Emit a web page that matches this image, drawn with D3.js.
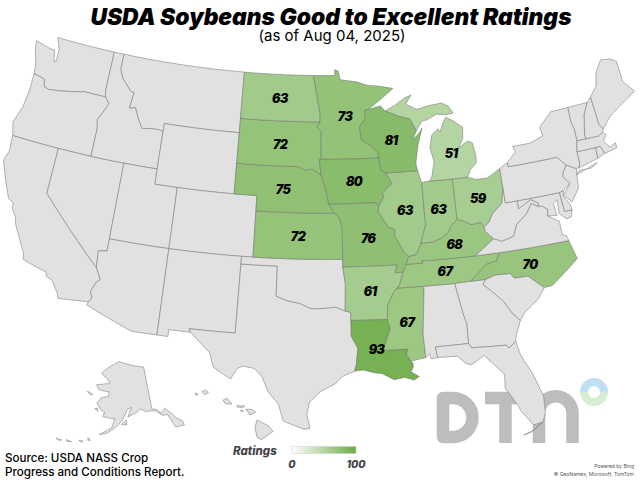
<!DOCTYPE html>
<html>
<head>
<meta charset="utf-8">
<script src="https://cdnjs.cloudflare.com/ajax/libs/d3/7.8.5/d3.min.js"></script>
<style>
    body { margin: 0; background: #fff; }
    svg { display: block; font-family: Inter, sans-serif; }
    .state { stroke: #6f6f6f; stroke-width: 0.5; stroke-linejoin: round; }
    .rating { font-size: 12.5px; font-weight: 900; font-style: italic; letter-spacing: -0.6px; text-anchor: middle; fill: #000; }
</style>
</head>
<body>
<svg id="map" width="640" height="480"></svg>
<script>
var titleText = "USDA Soybeans Good to Excellent Ratings";
var subtitleText = "(as of Aug 04, 2025)";
var sourceLines = ["Source: USDA NASS Crop", "Progress and Conditions Report."];
var creditLines = ["Powered by Bing", "\u00a9 GeoNames, Microsoft, TomTom"];

// ratings by state
var ratedStates = ["ND", "SD", "NE", "KS", "MN", "IA", "MO", "AR", "LA", "MS", "WI", "IL", "IN", "MI", "OH", "KY", "TN", "NC"];
var ratings = [63, 72, 75, 72, 73, 80, 76, 61, 93, 67, 81, 63, 63, 51, 59, 68, 67, 70];
var legendDomain = [0, 100];

// state outlines, [lon, lat]
var lower48 = {
    WA: [[[-124.7,48.4],[-123.2,48.15],[-122.75,48.15],[-122.5,47.4],[-122.3,47.5],[-122.35,48.3],[-122.8,49],[-117.03,49],[-117.04,46.42],[-116.92,45.99],[-118.98,46],[-119.3,45.93],[-121.2,45.65],[-122.3,45.55],[-122.75,45.65],[-122.9,46.1],[-123.4,46.2],[-124,46.27],[-124.1,46.9],[-124.6,47.9]]],
    OR: [[[-124,46.27],[-123.4,46.2],[-122.9,46.1],[-122.75,45.65],[-122.3,45.55],[-121.2,45.65],[-119.3,45.93],[-118.98,46],[-116.92,45.99],[-116.46,45.6],[-116.85,44.95],[-117.2,44.45],[-117.03,43.85],[-117.03,42],[-120,42],[-124.21,42],[-124.55,42.84],[-124.1,44],[-123.95,45.2]]],
    CA: [[[-124.21,42],[-120,42],[-120,39],[-114.63,35],[-114.14,34.3],[-114.43,34.05],[-114.72,33.4],[-114.5,33],[-114.72,32.72],[-117.12,32.53],[-117.25,32.85],[-117.9,33.6],[-118.4,33.75],[-118.5,34.03],[-119.2,34.15],[-120.5,34.45],[-120.65,34.9],[-121.9,36.6],[-122,36.95],[-122.5,37.5],[-122.5,37.8],[-123,38],[-123.8,39.3],[-124.35,40.3],[-124.1,41],[-124.2,41.75]]],
    NV: [[[-120,42],[-114.04,42],[-114.04,37],[-114.04,36.2],[-114.75,36.1],[-114.63,35],[-120,39]]],
    ID: [[[-117.03,49],[-116.05,49],[-116.05,48],[-115.7,47.45],[-114.7,46.7],[-114.35,46.65],[-114.5,45.6],[-113.95,45.7],[-113.45,44.95],[-113,44.45],[-112,44.55],[-111.5,44.55],[-111.05,44.48],[-111.05,42],[-114.04,42],[-117.03,42],[-117.03,43.85],[-117.2,44.45],[-116.85,44.95],[-116.46,45.6],[-116.92,45.99],[-117.04,46.42]]],
    MT: [[[-116.05,49],[-104.05,49],[-104.05,45],[-111.05,45],[-111.05,44.48],[-111.5,44.55],[-112,44.55],[-113,44.45],[-113.45,44.95],[-113.95,45.7],[-114.5,45.6],[-114.35,46.65],[-114.7,46.7],[-115.7,47.45],[-116.05,48]]],
    WY: [[[-111.05,45],[-104.05,45],[-104.05,41],[-111.05,41]]],
    UT: [[[-114.04,42],[-111.05,42],[-111.05,41],[-109.05,41],[-109.05,37],[-114.04,37]]],
    CO: [[[-109.05,41],[-102.05,41],[-102.05,37],[-109.05,37]]],
    AZ: [[[-114.04,37],[-109.05,37],[-109.05,31.33],[-111.07,31.33],[-114.81,32.5],[-114.72,32.72],[-114.5,33],[-114.72,33.4],[-114.43,34.05],[-114.14,34.3],[-114.63,35],[-114.75,36.1],[-114.04,36.2]]],
    NM: [[[-109.05,37],[-103,37],[-103.05,32],[-106.62,32],[-106.53,31.78],[-108.2,31.78],[-108.2,31.33],[-109.05,31.33]]],
    TX: [[[-103,36.5],[-100,36.5],[-100,34.56],[-99.2,34.3],[-98.1,34.13],[-97.2,33.8],[-96.5,33.8],[-95.2,33.9],[-94.48,33.64],[-94.04,33.55],[-94.04,33.02],[-94.04,31.99],[-93.55,31.2],[-93.7,30.1],[-93.85,29.7],[-94.7,29.4],[-95.3,28.9],[-96.4,28.4],[-97.2,27.7],[-97.4,26.9],[-97.15,25.96],[-97.6,25.9],[-99.1,26.4],[-99.5,27.5],[-100.3,28.3],[-100.8,29.25],[-101.4,29.77],[-102.3,29.88],[-102.7,29.7],[-103.15,28.98],[-104.5,29.65],[-104.9,30.6],[-106.53,31.78],[-106.62,32],[-103.05,32]]],
    OK: [[[-103,37],[-102.05,37],[-94.62,37],[-94.62,36.5],[-94.43,35.4],[-94.48,33.64],[-95.2,33.9],[-96.5,33.8],[-97.2,33.8],[-98.1,34.13],[-99.2,34.3],[-100,34.56],[-100,36.5],[-103,36.5]]],
    KS: [[[-102.05,40],[-95.3,40],[-94.9,39.75],[-94.62,39.1],[-94.62,37],[-102.05,37]]],
    NE: [[[-104.05,43],[-98.5,43],[-97.9,42.8],[-97.2,42.85],[-96.45,42.49],[-96.1,41.7],[-95.9,41.2],[-95.77,40.58],[-95.3,40],[-102.05,40],[-102.05,41],[-104.05,41]]],
    SD: [[[-104.05,45.94],[-96.56,45.94],[-96.85,45.6],[-96.45,45.3],[-96.45,43.5],[-96.6,43.5],[-96.45,42.49],[-97.2,42.85],[-97.9,42.8],[-98.5,43],[-104.05,43]]],
    ND: [[[-104.05,49],[-97.23,49],[-96.85,47.6],[-96.55,46.4],[-96.56,45.94],[-104.05,45.94]]],
    MN: [[[-97.23,49],[-95.15,49],[-95.15,49.38],[-94.8,49.3],[-94.6,48.72],[-93,48.55],[-92,48.3],[-90.8,48.2],[-89.5,48],[-90.8,47.3],[-92,46.7],[-92.3,46.66],[-92.3,46.1],[-92.85,45.6],[-92.75,44.75],[-91.9,44.3],[-91.25,43.85],[-91.22,43.5],[-96.45,43.5],[-96.45,45.3],[-96.85,45.6],[-96.56,45.94],[-96.55,46.4],[-96.85,47.6]]],
    IA: [[[-96.45,43.5],[-91.22,43.5],[-91.1,42.7],[-90.65,42.5],[-90.15,41.8],[-91.05,41.2],[-90.95,40.95],[-91.42,40.38],[-91.73,40.61],[-95.77,40.58],[-95.9,41.2],[-96.1,41.7],[-96.45,42.49],[-96.6,43.5]]],
    MO: [[[-95.77,40.58],[-91.73,40.61],[-91.42,40.38],[-91.5,40],[-90.7,39],[-90.15,38.8],[-90.2,38.4],[-89.5,37.3],[-89.15,37],[-89.4,36.5],[-89.7,36],[-90.37,36],[-90.15,36.5],[-94.62,36.5],[-94.62,37],[-94.62,39.1],[-94.9,39.75],[-95.3,40]]],
    AR: [[[-94.62,36.5],[-90.15,36.5],[-90.37,36],[-89.7,36],[-90.07,35.15],[-90.6,34.7],[-91.1,33.9],[-91.17,33],[-94.04,33.02],[-94.04,33.55],[-94.48,33.64],[-94.43,35.4]]],
    LA: [[[-94.04,33.02],[-91.17,33],[-91,32.4],[-91.6,31],[-89.73,31],[-89.85,30.65],[-89.55,30.2],[-89.4,30.05],[-89.4,29.8],[-89.6,29.5],[-89,29.15],[-89.4,28.95],[-90.1,29.15],[-90.9,29.05],[-91.8,29.5],[-92.3,29.55],[-93.2,29.77],[-93.85,29.7],[-93.7,30.1],[-93.55,31.2],[-94.04,31.99]]],
    MS: [[[-90.3,35],[-88.2,35],[-88.1,34.9],[-88.47,31.9],[-88.4,30.35],[-89.55,30.2],[-89.85,30.65],[-89.73,31],[-91.6,31],[-91,32.4],[-91.17,33],[-91.1,33.9],[-90.6,34.7],[-90.07,35.15]]],
    AL: [[[-88.2,35],[-85.6,34.98],[-85.18,32.87],[-85,32.3],[-85.05,31],[-87.6,31],[-87.5,30.3],[-88,30.25],[-88.1,30.6],[-88.4,30.35],[-88.47,31.9],[-88.1,34.9]]],
    TN: [[[-89.4,36.5],[-88.05,36.5],[-88.07,36.68],[-87.85,36.64],[-83.68,36.6],[-81.68,36.59],[-82,36.1],[-82.9,35.95],[-84.3,35],[-85.6,34.98],[-88.2,35],[-90.3,35],[-90.07,35.15],[-89.7,36]]],
    KY: [[[-89.4,36.5],[-89.15,37],[-88.5,37.1],[-88.05,37.8],[-87.1,37.8],[-86.3,38],[-85.7,38.3],[-85.4,38.7],[-84.8,39.1],[-84.3,38.95],[-83.7,38.65],[-82.85,38.7],[-82.6,38.4],[-82.6,38.1],[-81.97,37.54],[-83.68,36.6],[-87.85,36.64],[-88.07,36.68],[-88.05,36.5]]],
    IL: [[[-90.65,42.5],[-87.8,42.5],[-87.53,41.7],[-87.53,39.35],[-87.5,39],[-88.05,37.8],[-88.5,37.1],[-89.15,37],[-89.5,37.3],[-90.2,38.4],[-90.15,38.8],[-90.7,39],[-91.5,40],[-91.42,40.38],[-90.95,40.95],[-91.05,41.2],[-90.15,41.8]]],
    IN: [[[-87.53,41.7],[-87.2,41.75],[-86.8,41.76],[-84.8,41.73],[-84.8,39.1],[-85.4,38.7],[-85.7,38.3],[-86.3,38],[-87.1,37.8],[-88.05,37.8],[-87.5,39],[-87.53,39.35]]],
    OH: [[[-84.8,41.73],[-83.45,41.73],[-82.7,41.5],[-81.7,41.5],[-80.52,41.98],[-80.52,40.64],[-80.85,39.7],[-81.7,39.2],[-82.2,38.6],[-82.6,38.4],[-82.85,38.7],[-83.7,38.65],[-84.3,38.95],[-84.8,39.1]]],
    MI: [[[-86.8,41.76],[-84.8,41.73],[-83.45,41.73],[-83.1,42.2],[-82.5,42.6],[-82.45,43],[-82.6,43.9],[-83,44.07],[-83.9,43.7],[-83.4,44.3],[-83.3,45],[-84.1,45.5],[-84.75,45.78],[-85.1,45.4],[-85.4,44.9],[-85.6,45.1],[-86.25,44.7],[-86.5,43.9],[-86.25,43],[-86.6,42]],
         [[-90.4,46.55],[-89.5,46.85],[-88.5,47.3],[-87.8,47.47],[-88.4,46.9],[-87.4,46.5],[-86.2,46.67],[-85,46.75],[-84.4,46.5],[-84,46],[-84.75,45.95],[-85.6,46.05],[-86.5,45.75],[-87,45.7],[-87.6,45.1],[-88.1,45.9],[-89.1,46.13]]],
    WI: [[[-92.3,46.66],[-92,46.7],[-90.8,46.9],[-90.4,46.55],[-89.1,46.13],[-88.1,45.9],[-87.6,45.1],[-88,44.55],[-87.4,44.9],[-87.05,45.25],[-87.55,44.2],[-87.9,43],[-87.8,42.5],[-90.65,42.5],[-91.1,42.7],[-91.22,43.5],[-91.25,43.85],[-91.9,44.3],[-92.75,44.75],[-92.85,45.6],[-92.3,46.1]]],
    GA: [[[-85.6,34.98],[-84.3,35],[-83.1,35],[-83.35,34.7],[-82.75,34.2],[-81.9,33.4],[-81.4,32.6],[-80.85,32.03],[-81.4,31],[-81.45,30.72],[-82.05,30.36],[-82.2,30.57],[-84.86,30.7],[-85.05,31],[-85,32.3],[-85.18,32.87]]],
    FL: [[[-87.6,31],[-85.05,31],[-84.86,30.7],[-82.2,30.57],[-82.05,30.36],[-81.45,30.72],[-81.25,29.8],[-80.55,28.4],[-80.05,26.9],[-80.13,25.8],[-80.4,25.2],[-81.1,25.12],[-81.8,26.1],[-82.2,26.9],[-82.75,27.8],[-82.65,28.7],[-83.4,29.5],[-84,30.1],[-85,29.6],[-85.4,29.7],[-86,30.25],[-87.5,30.3]],
         [[-81.9,24.55],[-81.3,24.68],[-80.45,25.2],[-81.2,24.75]]],
    SC: [[[-83.35,34.7],[-83.1,35],[-82.3,35.2],[-81.05,35.15],[-80.8,34.82],[-79.68,34.8],[-78.55,33.87],[-79.2,33.2],[-80.4,32.5],[-80.85,32.03],[-81.4,32.6],[-81.9,33.4],[-82.75,34.2]]],
    NC: [[[-84.3,35],[-82.9,35.95],[-82,36.1],[-81.68,36.59],[-75.87,36.55],[-75.5,35.3],[-76.5,34.7],[-77.9,33.9],[-78.55,33.87],[-79.68,34.8],[-80.8,34.82],[-81.05,35.15],[-82.3,35.2],[-83.1,35]]],
    VA: [[[-83.68,36.6],[-81.97,37.54],[-81.3,37.3],[-80.3,37.5],[-79.9,38.2],[-78.9,38.8],[-78.35,39.4],[-77.83,39.13],[-77.5,39.1],[-77.05,38.8],[-77.2,38.4],[-76.3,37.9],[-76.3,37],[-75.97,36.9],[-75.87,36.55],[-81.68,36.59]]],
    WV: [[[-81.97,37.54],[-82.6,38.1],[-82.6,38.4],[-82.2,38.6],[-81.7,39.2],[-80.85,39.7],[-80.52,40.64],[-80.52,39.72],[-79.48,39.72],[-79.48,39.2],[-78.35,39.65],[-77.72,39.32],[-77.83,39.13],[-78.35,39.4],[-78.9,38.8],[-79.9,38.2],[-80.3,37.5],[-81.3,37.3]]],
    MD: [[[-79.48,39.72],[-75.79,39.72],[-75.7,38.46],[-75.05,38.45],[-75.25,38.03],[-75.65,37.95],[-76.2,38.4],[-76.1,39.3],[-76.5,39.1],[-76.4,38.3],[-77.2,38.4],[-77.05,38.8],[-77.5,39.1],[-77.83,39.13],[-77.72,39.32],[-78.35,39.65],[-79.48,39.2]]],
    DE: [[[-75.79,39.72],[-75.4,39.8],[-75.55,39.45],[-75.08,38.8],[-75.05,38.45],[-75.7,38.46]]],
    PA: [[[-80.52,41.98],[-79.76,42.27],[-79.76,42],[-75.35,42],[-74.7,41.36],[-75.1,40.95],[-75.2,40.65],[-74.72,40.15],[-75.4,39.8],[-75.79,39.72],[-79.48,39.72],[-80.52,39.72],[-80.52,40.64]]],
    NJ: [[[-74.7,41.36],[-73.9,41],[-74,40.45],[-74.1,39.75],[-74.9,38.95],[-75.5,39.5],[-74.72,40.15],[-75.2,40.65],[-75.1,40.95]]],
    NY: [[[-79.76,42],[-79.76,42.27],[-78.9,42.85],[-79.05,43.26],[-77.5,43.25],[-76.2,43.55],[-76.3,44.15],[-75,44.98],[-73.35,45],[-73.4,44],[-73.25,43.55],[-73.27,42.75],[-73.5,42.05],[-73.5,41.3],[-73.65,41],[-73.9,41],[-74.7,41.36],[-75.35,42]],
         [[-74,40.6],[-72,41.05],[-72.6,40.8],[-73.7,40.85]]],
    CT: [[[-73.5,42.05],[-71.8,42.02],[-71.85,41.32],[-73.65,41],[-73.5,41.3]]],
    RI: [[[-71.8,42.02],[-71.38,42.02],[-71.15,41.5],[-71.85,41.32]]],
    MA: [[[-73.5,42.05],[-73.27,42.75],[-72.46,42.73],[-71.3,42.7],[-70.85,42.87],[-70.6,42.65],[-71,42.3],[-70.55,41.8],[-70,42],[-70,41.65],[-71.15,41.5],[-71.38,42.02],[-71.8,42.02]]],
    VT: [[[-73.35,45],[-71.5,45.01],[-72.05,44.3],[-72.45,43.1],[-72.46,42.73],[-73.27,42.75],[-73.25,43.55],[-73.4,44]]],
    NH: [[[-71.5,45.01],[-71.08,45.3],[-70.98,43.4],[-70.7,43.07],[-70.85,42.87],[-71.3,42.7],[-72.46,42.73],[-72.45,43.1],[-72.05,44.3]]],
    ME: [[[-71.08,45.3],[-70.3,45.9],[-70,46.7],[-69.23,47.46],[-68.3,47.35],[-67.8,47.07],[-67.8,45.7],[-67,44.85],[-68.5,44.3],[-69.8,43.75],[-70.7,43.07],[-70.98,43.4]]]
};

var alaskaOutline = [
    [[-141,69.65],[-148,70.4],[-156.6,71.35],[-163,69.8],[-166.5,68.35],[-162,67],[-161,66.3],[-163.7,66.1],[-168,65.6],[-166,64.6],[-161,64.5],[-161,63.5],[-164.5,63],[-166,61.7],[-163.5,60.3],[-162,60],[-162.5,59],[-158,58.7],[-157.3,58.8],[-158.5,56.7],[-163,55],[-160,55.5],[-156,57.3],[-154,58.6],[-152,60.8],[-150,61.2],[-151.8,59.2],[-148,60],[-146,60.7],[-144,60],[-141,59.9],[-139.5,59.7],[-137,58.4],[-135,58.3],[-133.4,55.2],[-130,55],[-130.1,56],[-132,57],[-133.5,58.5],[-135.5,59.8],[-137.5,58.9],[-139,60],[-141,60.3]],
    [[-154.5,57.5],[-152.3,57.5],[-152.6,58.5],[-153.9,57.9]],
    [[-171.8,63.7],[-170,63.2],[-168.8,63.3],[-170.5,63.7]],
    [[-166.5,60.4],[-165,60],[-165.3,60.6]],
    [[-167,53.9],[-166,53.5],[-166.8,53.3]],
    [[-170,52.9],[-168.5,53],[-169,52.6]],
    [[-174.5,52.3],[-172.5,52.2],[-174,52]],
    [[-178,51.9],[-176,51.9],[-177,51.6]]
];

var hawaiiOutline = [
    [[-155.9,20.25],[-155.1,19.85],[-154.8,19.5],[-155.6,18.95],[-155.9,19.1],[-156.05,19.75]],
    [[-156.7,20.95],[-156.25,20.95],[-156,20.75],[-156.4,20.58],[-156.55,20.8]],
    [[-157.3,21.2],[-156.75,21.17],[-156.9,21.05],[-157.3,21.1]],
    [[-157.05,20.9],[-156.85,20.85],[-156.95,20.75]],
    [[-158.27,21.55],[-158,21.7],[-157.65,21.3],[-158.1,21.3]],
    [[-159.75,22.1],[-159.5,22.22],[-159.3,22.05],[-159.55,21.9]],
    [[-160.25,21.95],[-160.1,22],[-160.05,21.85]]
];

var svg = d3.select("#map");

var colorScale = d3.scaleLinear().domain(legendDomain).range(["#ffffff", "#6cab46"]);
var ratingByState = new Map(ratedStates.map(function(s, i) { return [s, ratings[i]]; }));

var mainProjection = d3.geoConicEqualArea().parallels([29.5, 45.5]).rotate([96, 0]).center([0, 38])
    .scale(875).translate([326, 244]);
var alaskaProjection = d3.geoConicEqualArea().parallels([55, 65]).rotate([154, 0]).center([-2, 58.5])
    .scale(262).translate([118, 420]);
var hawaiiProjection = d3.geoConicEqualArea().parallels([8, 18]).rotate([157, 0]).center([-3, 19.9])
    .scale(875).translate([198, 425]);

// add points along long edges so borders follow the parallels, and fix the ring direction
function toFeature(id, polygons) {
    var rings = polygons.map(function(poly) {
        var ring = [];
        poly.concat([poly[0]]).forEach(function(p, i, all) {
            if (i > 0) {
                var q = all[i - 1];
                var steps = Math.ceil(Math.max(Math.abs(p[0] - q[0]), Math.abs(p[1] - q[1])));
                d3.range(1, steps).forEach(function(k) {
                    ring.push([q[0] + (p[0] - q[0]) * k / steps, q[1] + (p[1] - q[1]) * k / steps]);
                });
            }
            ring.push(p);
        });
        if (d3.geoArea({ type: "Polygon", coordinates: [ring] }) > 2 * Math.PI) ring.reverse();
        return [ring];
    });
    return { type: "Feature", id: id, geometry: { type: "MultiPolygon", coordinates: rings } };
}

function largestPolygon(feature) {
    var best = d3.greatest(feature.geometry.coordinates, function(c) {
        return d3.geoArea({ type: "Polygon", coordinates: c });
    });
    return { type: "Polygon", coordinates: best };
}

// DTN mark, sits under the map
function drawLogo() {
    var logo = svg.append("g").attr("class", "logo");
    var strokes = [
        "M443,398H453A19.5,19.5 0 0 1 453,437H443Z",
        "M485,398H527M505.5,398V443",
        "M539,443V413A16.75,16.75 0 0 1 572.5,413V443"
    ];
    logo.selectAll("path")
        .data(strokes)
        .enter()
        .append("path")
        .attr("d", function(d) { return d; })
        .attr("fill", "none")
        .attr("stroke", "#bdbdbd")
        .attr("stroke-width", 12.5)
        .attr("stroke-linejoin", "round");

    var ring = d3.arc().innerRadius(6).outerRadius(14);
    var ringGroup = logo.append("g").attr("transform", "translate(594,392)");
    ringGroup.append("path")
        .attr("d", ring({ startAngle: -Math.PI / 2, endAngle: Math.PI / 2 }))
        .attr("fill", "#bfe0f2");
    ringGroup.append("path")
        .attr("d", ring({ startAngle: Math.PI / 2, endAngle: 3 * Math.PI / 2 }))
        .attr("fill", "#d8eed3");
}

function drawMap() {
    var groups = [
        { projection: mainProjection, features: Object.keys(lower48).map(function(k) { return toFeature(k, lower48[k]); }) },
        { projection: alaskaProjection, features: [toFeature("AK", alaskaOutline)] },
        { projection: hawaiiProjection, features: [toFeature("HI", hawaiiOutline)] }
    ];

    groups.forEach(function(group) {
        var path = d3.geoPath(group.projection);
        svg.append("g")
            .selectAll("path")
            .data(group.features)
            .enter()
            .append("path")
            .attr("class", "state")
            .attr("d", path)
            .attr("fill", function(d) {
                return ratingByState.has(d.id) ? colorScale(ratingByState.get(d.id)) : "#e1e1e1";
            });
    });

    var path = d3.geoPath(mainProjection);
    svg.append("g")
        .selectAll("text")
        .data(groups[0].features.filter(function(d) { return ratingByState.has(d.id); }))
        .enter()
        .append("text")
        .attr("class", "rating")
        .attr("transform", function(d) {
            var c = path.centroid(largestPolygon(d));
            // LA and NC sit a little left of their centroid in the reference
            var nudge = d.id === "LA" || d.id === "NC" ? -3 : 0;
            return "translate(" + (c[0] + nudge) + "," + (c[1] + 5 + (d.id === "LA" ? -2 : 0)) + ")";
        })
        .text(function(d) { return ratingByState.get(d.id); });
}

function drawTexts() {
    svg.append("text")
        .attr("x", 331).attr("y", 25)
        .attr("text-anchor", "middle")
        .attr("font-size", 22.8).attr("font-weight", 900).attr("font-style", "italic")
        .text(titleText);
    svg.append("text")
        .attr("x", 332).attr("y", 41)
        .attr("text-anchor", "middle")
        .attr("font-size", 15)
        .text(subtitleText);

    svg.append("g").selectAll("text")
        .data(sourceLines)
        .enter()
        .append("text")
        .attr("x", 5)
        .attr("y", function(d, i) { return 462 + i * 13.5; })
        .attr("font-size", 11.6).attr("font-weight", 500)
        .text(function(d) { return d; });

    svg.append("g").selectAll("text")
        .data(creditLines)
        .enter()
        .append("text")
        .attr("x", 634)
        .attr("y", function(d, i) { return 468 + i * 7.5; })
        .attr("text-anchor", "end")
        .attr("font-size", 5)
        .attr("fill", "#555")
        .text(function(d) { return d; });
}

function drawLegend() {
    var x = d3.scaleLinear().domain(legendDomain).range([292, 356]);
    var grad = svg.append("defs").append("linearGradient").attr("id", "legend-gradient");
    grad.selectAll("stop")
        .data(legendDomain)
        .enter()
        .append("stop")
        .attr("offset", function(d, i) { return i * 100 + "%"; })
        .attr("stop-color", function(d) { return colorScale(d); });

    svg.append("text")
        .attr("x", 233).attr("y", 455)
        .attr("font-size", 11.5).attr("font-weight", 800).attr("font-style", "italic")
        .attr("fill", "#444")
        .text("Ratings");

    svg.append("rect")
        .attr("x", x(0)).attr("y", 446.5)
        .attr("width", x(100) - x(0)).attr("height", 7)
        .attr("fill", "url(#legend-gradient)")
        .attr("stroke", "#ccc").attr("stroke-width", 0.5);

    svg.append("g").selectAll("text")
        .data(legendDomain)
        .enter()
        .append("text")
        .attr("x", function(d) { return x(d); })
        .attr("y", 468)
        .attr("text-anchor", "middle")
        .attr("font-size", 10.5).attr("font-weight", 800).attr("font-style", "italic")
        .attr("fill", "#444")
        .text(function(d) { return d; });
}

drawLogo();
drawMap();
drawTexts();
drawLegend();
</script>
</body>
</html>
